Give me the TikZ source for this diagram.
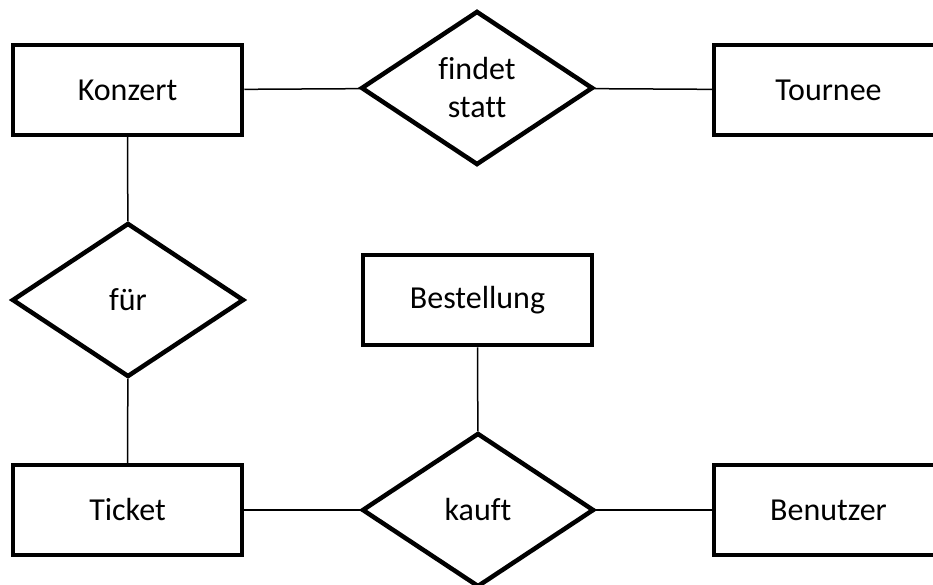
\documentclass[tikz,border=0pt]{standalone}
\usepackage{fontspec}
\setmainfont[Ligatures=CommonOff]{Carlito}
\usetikzlibrary{shapes.geometric}
\begin{document}
\begin{tikzpicture}[x=1pt,y=-1pt,
  entity/.style={draw,line width=4.5pt,minimum width=229pt,minimum height=90pt,inner sep=0pt,font=\fontsize{32}{38}\selectfont},
  relation/.style={draw,diamond,line width=4.5pt,aspect=1.51,minimum width=232pt,minimum height=154pt,inner sep=0pt,align=center,font=\fontsize{32}{38}\selectfont},
  link/.style={line width=1.5pt}]
\useasboundingbox (0,0) rectangle (933,585);
\clip (0,0) rectangle (933,585);
\node[entity] (konzert) at (127.5,90) {Konzert};
\node[relation] (findet) at (477,88) {findet\\statt};
\node[entity] (tournee) at (828.5,90) {Tournee};
\node[relation] (fuer) at (128,300) {für};
\node[entity] (bestellung) at (477.5,300) {Bestellung};
\node[relation] (kauft) at (478,510) {kauft};
\node[entity] (ticket) at (127.5,510) {Ticket};
\node[entity] (benutzer) at (828.5,510) {Benutzer};
\draw[link] (konzert) -- (findet);
\draw[link] (findet) -- (tournee);
\draw[link] (konzert) -- (fuer);
\draw[link] (fuer) -- (ticket);
\draw[link] (ticket) -- (kauft);
\draw[link] (kauft) -- (benutzer);
\draw[link] (bestellung) -- (kauft);
\end{tikzpicture}
\end{document}
